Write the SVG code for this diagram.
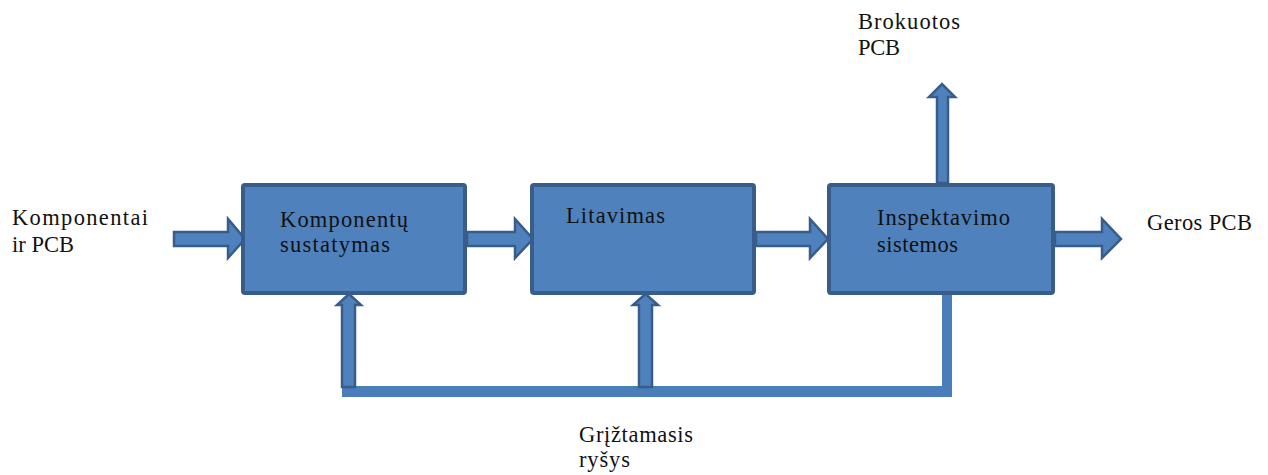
<svg xmlns="http://www.w3.org/2000/svg" width="1268" height="475" viewBox="0 0 1268 475">
<style>
.box{fill:#4f81bd;stroke:#385d8a;stroke-width:4}
.arr{fill:#4f81bd;stroke:#385d8a;stroke-width:2.5;stroke-linejoin:miter}
.fb{fill:#4a7ebb}
.t{font-family:"Liberation Serif","Times New Roman",serif;font-size:22.5px;fill:#111}
</style>
<rect width="1268" height="475" fill="#ffffff"/>
<g id="connectors">
<polygon class="arr" points="174,232 228,232 228,219 245,239 228,258 228,246 174,246"/>
<polygon class="arr" points="467,232 515,232 515,219 533,239 515,258 515,246 467,246"/>
<polygon class="arr" points="756,232 810,232 810,219 828,239 810,258 810,246 756,246"/>
<polygon class="arr" points="1055,232 1102,232 1102,219 1121,239 1102,258 1102,246 1055,246"/>
<polygon class="arr" points="937,183 937,97 929,97 942,84 955,97 948,97 948,183"/>
<path class="fb" d="M342,386 H942 V294 H952 V397 H342 Z"/>
<polygon class="arr" points="342,387 342,305 337,305 349,294 361,305 355,305 355,387"/>
<polygon class="arr" points="639,387 639,305 633,305 645.5,294 658,305 652,305 652,387"/>
</g>
<g id="node-komponentu">
<rect class="box" x="243" y="185" width="222" height="108" rx="2"/>
<text class="t" x="280" y="227" textLength="128" lengthAdjust="spacing">Komponentų</text>
<text class="t" x="280" y="252" textLength="110" lengthAdjust="spacing">sustatymas</text>
</g>
<g id="node-litavimas">
<rect class="box" x="532" y="185" width="222" height="108" rx="2"/>
<text class="t" x="566" y="223" textLength="99" lengthAdjust="spacing">Litavimas</text>
</g>
<g id="node-inspektavimo">
<rect class="box" x="829" y="185" width="224" height="108" rx="2"/>
<text class="t" x="877" y="225" textLength="133" lengthAdjust="spacing">Inspektavimo</text>
<text class="t" x="877" y="252" textLength="81" lengthAdjust="spacing">sistemos</text>
</g>
<g id="label-input">
<text class="t" x="12" y="225" textLength="136" lengthAdjust="spacing">Komponentai</text>
<text class="t" x="12" y="252" textLength="62" lengthAdjust="spacing">ir PCB</text>
</g>
<g id="label-brokuotos">
<text class="t" x="858" y="29" textLength="102" lengthAdjust="spacing">Brokuotos</text>
<text class="t" x="858" y="55" textLength="42" lengthAdjust="spacing">PCB</text>
</g>
<g id="label-geros">
<text class="t" x="1147" y="230" textLength="105" lengthAdjust="spacing">Geros PCB</text>
</g>
<g id="label-feedback">
<text class="t" x="579" y="442" textLength="114" lengthAdjust="spacing">Grįžtamasis</text>
<text class="t" x="579" y="467" textLength="51" lengthAdjust="spacing">ryšys</text>
</g>
</svg>
